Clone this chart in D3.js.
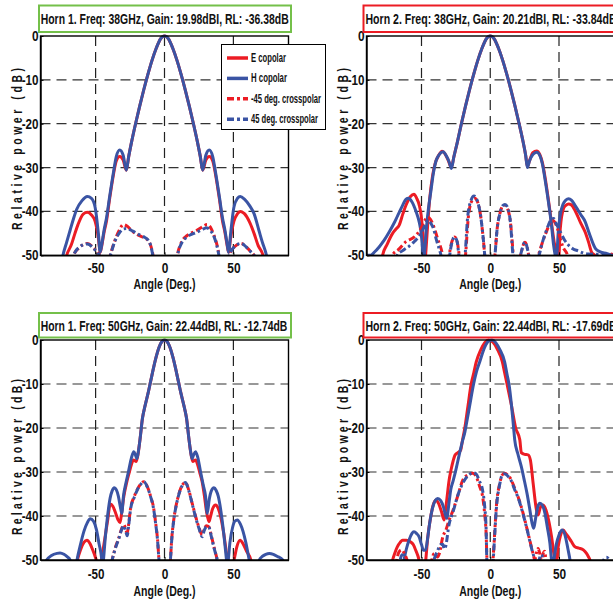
<!DOCTYPE html>
<html><head><meta charset="utf-8">
<script src="https://cdn.jsdelivr.net/npm/d3@7"></script>
<style>html,body{margin:0;padding:0;background:#fff;} svg{display:block;}</style>
</head><body>
<svg id="c" width="613" height="602"></svg>
<script>
// ---------------- DATA ----------------
const xTicks = [-50, 0, 50];
const yTicks = [0, -10, -20, -30, -40, -50];
const gridX = [-50, 0, 50];
const gridY = [-10, -20, -30, -40];
const seriesNames = ["E copolar", "H copolar", "-45 deg. crosspolar", "45 deg. crosspolar"];
const titles = [
  "Horn 1. Freq: 38GHz, Gain: 19.98dBI, RL: -36.38dB",
  "Horn 2. Freq: 38GHz, Gain: 20.21dBI, RL: -33.84dB",
  "Horn 1. Freq: 50GHz, Gain: 22.44dBI, RL: -12.74dB",
  "Horn 2. Freq: 50GHz, Gain: 22.44dBI, RL: -17.69dB"
];
const xLabel = "Angle (Deg.)";
const yLabel = "Relative power (dB)";

// Horn 1, 38 GHz  [angle, dB]
const h1f38_E = [[-90,-60],[-75,-56],[-71,-50],[-67.5,-47.5],[-65,-45],[-62.8,-43],[-59,-40.6],[-56,-40.2],[-53,-40.8],[-50.4,-42.2],[-48,-46],[-46.7,-49.3],[-45.5,-47.8],[-44,-45],[-42,-42],[-40,-37.5],[-37,-31.5],[-35,-28.5],[-32.5,-27.5],[-30,-28.3],[-27.7,-30.6],[-26,-27.5],[-24,-24.3],[-21,-20],[-18,-16],[-15,-12.2],[-12,-8.7],[-9,-5.5],[-6,-2.8],[-3,-0.7],[0,0],[3,-0.7],[6,-2.8],[9,-5.5],[12,-8.7],[15,-12.2],[18,-16],[21,-20],[24,-24.3],[26,-27.5],[27.7,-30.6],[30,-28.3],[32.5,-27.5],[35,-28.5],[37,-31.5],[40,-37.5],[42,-42],[44,-45],[45.5,-47.8],[46.5,-49.3],[48,-46],[50.4,-42.2],[53,-40.5],[55,-40],[58,-40.5],[62,-42.6],[65,-45],[68,-47.8],[71.5,-50],[75,-56],[90,-60]];
const h1f38_H = [[-90,-60],[-77,-56],[-73.7,-50],[-71,-47],[-68.6,-44.4],[-66,-41.6],[-63.7,-39.5],[-60,-37.6],[-56,-36.6],[-53,-37],[-50.4,-39],[-48,-45],[-46.7,-49.3],[-45.5,-47.5],[-44,-44.5],[-42,-41.3],[-40,-37],[-37,-31],[-35,-27.5],[-32.5,-26],[-30,-27.2],[-27.7,-30.6],[-26,-27.5],[-24,-24.3],[-21,-20],[-18,-16],[-15,-12.2],[-12,-8.7],[-9,-5.5],[-6,-2.8],[-3,-0.7],[0,0],[3,-0.7],[6,-2.8],[9,-5.5],[12,-8.7],[15,-12.2],[18,-16],[21,-20],[24,-24.3],[26,-27.5],[27.7,-30.6],[30,-27.2],[32.5,-26],[35,-27.5],[37,-31],[40,-37],[42,-41.3],[44,-44.5],[45.5,-47.5],[46.5,-49.3],[48,-45],[50.4,-39],[53,-37],[55,-36.6],[58,-37.2],[62,-38.8],[65,-40.5],[68.6,-44.4],[71,-47],[74,-50],[77,-56],[90,-60]];
const h1f38_XM = [[-90,-60],[-70,-56],[-66,-50],[-62,-48.3],[-56,-47.3],[-51,-48.5],[-47.3,-50],[-44,-56],[-39.4,-50],[-36,-46.6],[-33,-44.4],[-30,-43],[-27,-43.4],[-23,-44.6],[-19,-45.4],[-15,-46],[-12,-46.6],[-10,-47.8],[-8.3,-50],[-6,-56],[0,-60],[7,-56],[9.3,-50],[11,-48],[13,-46.6],[16,-45.6],[19,-45],[23,-44.4],[27,-43.6],[31,-43],[34,-44],[36,-45.5],[38,-47.5],[39.7,-50],[43,-56],[47,-50],[51,-48],[55.5,-47.3],[60,-48.3],[63,-49.3],[65,-50],[68,-56],[90,-60]];
const h1f38_XP = [[-90,-60],[-70,-56],[-66,-50],[-62,-48.2],[-56,-47.4],[-51,-48.6],[-47.3,-50],[-44,-56],[-39.2,-50],[-36,-46.8],[-33,-45],[-30,-44],[-27.5,-43.9],[-23,-44.5],[-19,-45.2],[-15,-45.8],[-12,-46.5],[-10,-47.8],[-8.5,-50],[-6,-56],[0,-60],[7,-56],[9.5,-50],[11,-48.2],[13,-46.9],[16,-45.9],[19,-45.3],[23,-44.8],[27,-44.2],[30.5,-43.7],[33.5,-44.4],[36,-45.8],[38,-47.8],[39.5,-50],[43,-56],[47,-50],[51,-48],[55.5,-47.3],[60,-48.3],[63,-49.3],[65,-50],[68,-56],[90,-60]];

// Horn 2, 38 GHz
const h2f38_E = [[-90,-60],[-80,-55],[-78.3,-50],[-75,-47.5],[-71,-45],[-68.5,-44],[-66.2,-43.1],[-63.5,-40.5],[-61.3,-38.6],[-58,-36.6],[-55.5,-36.1],[-53.5,-37],[-51.6,-38.6],[-50.2,-41],[-49.1,-44.6],[-47.8,-50],[-47.5,-52],[-47,-50],[-45.5,-43],[-44,-37],[-42,-32],[-40,-29],[-37.5,-27.2],[-35,-26.3],[-33,-26.8],[-30.5,-28.4],[-28.3,-30],[-26.5,-27.6],[-24,-24.3],[-21,-20],[-18,-16],[-15,-12.2],[-12,-8.7],[-9,-5.5],[-6,-2.8],[-3,-0.7],[0,0],[3,-0.7],[6,-2.8],[9,-5.5],[12,-8.7],[15,-12.2],[18,-16],[21,-20],[24,-24.3],[25.8,-27.3],[27,-29.8],[28.5,-28.5],[31,-26.6],[33.8,-26.2],[36,-27],[38,-29],[40,-32.5],[42.3,-37.4],[44.5,-42.5],[46.5,-47],[48.4,-50],[49.3,-51],[50,-50],[50.9,-44],[53.3,-39.3],[55,-38.6],[57,-38.3],[59,-38.5],[62,-40],[66,-42.8],[69,-44.7],[71.5,-47],[73.7,-49.3],[76,-50],[80,-53],[86,-51],[88,-49.7],[90,-50]];
const h2f38_H = [[-90,-50],[-87,-50],[-84,-49.2],[-80.8,-48.1],[-77,-46.5],[-73.5,-44.7],[-70,-42.7],[-67.4,-41],[-64,-38.8],[-61.3,-37.2],[-59.5,-37],[-57,-37.8],[-54,-40],[-51.6,-42.5],[-50.4,-44.6],[-48.8,-50],[-48.5,-51],[-48,-50],[-46.5,-44],[-45,-39.5],[-43,-35],[-41.5,-31.5],[-39.5,-28.5],[-37,-27],[-34.3,-26.4],[-32,-27.3],[-30,-28.6],[-28.2,-30.2],[-26.5,-27.6],[-24,-24.3],[-21,-20],[-18,-16],[-15,-12.2],[-12,-8.7],[-9,-5.5],[-6,-2.8],[-3,-0.7],[0,0],[3,-0.7],[6,-2.8],[9,-5.5],[12,-8.7],[15,-12.2],[18,-16],[21,-20],[24,-24.3],[25.8,-27.3],[27,-30],[28.5,-28.5],[31,-27],[33.8,-26.5],[36,-27.2],[38,-29.3],[40,-33],[42.3,-37.8],[44.5,-43],[46,-47.5],[47.2,-50],[47.8,-51],[48.4,-50],[49.5,-44.5],[50.9,-40.8],[53,-38.3],[55,-37.4],[57,-37.1],[59,-37.4],[62,-38.8],[66,-40.8],[69,-42.3],[72,-45],[76.4,-48.4],[80,-49.2],[85,-49.6],[88,-50],[90,-50.5]];
const h2f38_XM = [[-90,-60],[-73,-55],[-71.2,-50],[-66.4,-48.6],[-61.3,-46.9],[-55.2,-45.8],[-50.4,-43.9],[-47.5,-42],[-45.5,-41.3],[-43.5,-41.8],[-41.9,-42.8],[-38.3,-46.2],[-34.6,-50],[-33,-53],[-30,-50],[-28,-47],[-26,-45.8],[-24,-47],[-22.5,-50],[-20,-54],[-18,-50],[-16,-41.5],[-14,-38],[-11.4,-37],[-9,-38],[-7,-41],[-5,-46.5],[-4,-50],[-1,-56],[2,-53],[3.4,-50],[5,-44],[7,-40.5],[9,-38.8],[10.7,-38.6],[12.5,-39.3],[14.5,-42],[16.8,-50],[18,-54],[20.5,-52],[22,-50],[25.3,-47],[28,-50],[30,-54],[33,-52],[35,-50],[38,-47],[41,-44.5],[44,-42.3],[45.5,-42],[47,-42.5],[49,-44],[50.9,-46.2],[53,-48.2],[56.2,-50],[58,-54],[90,-60]];
const h2f38_XP = [[-90,-60],[-70,-55],[-67.6,-50],[-63,-48.8],[-58.9,-47.9],[-55,-46.8],[-51.6,-45.6],[-48,-43.5],[-45.5,-42],[-43,-42.8],[-41,-44.2],[-39.4,-46.2],[-35.8,-50],[-33,-54],[-30,-51],[-28.5,-48],[-26,-45.8],[-24,-47],[-22.8,-50],[-20,-54],[-18.3,-50],[-16.5,-41.5],[-14,-37.5],[-11.8,-36.5],[-9.5,-37.5],[-7,-41],[-5,-46.5],[-4,-50],[-1,-56],[2,-53],[3.4,-50],[5,-44],[7,-40.5],[9,-38.7],[10.7,-38.4],[12.5,-39],[14.5,-42],[16.5,-50],[18,-54],[20.5,-52],[22,-50],[25.3,-47],[28,-50],[30,-54],[33,-52],[35.5,-50],[38,-47],[41,-44.2],[44,-42],[46,-41.6],[48,-42.8],[50.9,-44.6],[54,-46.5],[57,-47.7],[60,-48.5],[64,-49],[68,-49.5],[71.5,-49.7],[80,-49.8],[88,-50],[90,-50]];

// Horn 1, 50 GHz
const h1f50_E = [[-90,-60],[-65,-53],[-63.2,-50],[-61,-47.7],[-58.5,-46],[-56.3,-45.5],[-54,-46.3],[-52,-47.8],[-49.5,-50],[-47.5,-52],[-45.5,-49.5],[-43.5,-45.5],[-41.5,-41.5],[-39.3,-37.3],[-37.5,-37.8],[-35.5,-39.3],[-33.8,-40.8],[-32.3,-41.5],[-31,-39],[-29.5,-35.5],[-27.4,-32.3],[-25.5,-30],[-24,-28.3],[-22.5,-27.3],[-20.5,-27.6],[-19,-25.5],[-17.7,-22.4],[-16,-17.8],[-14,-14.8],[-12,-12.2],[-10,-9.3],[-8,-6.4],[-6,-3.8],[-4,-1.7],[-2,-0.4],[0,0],[2,-0.4],[4,-1.7],[6,-3.8],[8,-6.4],[10,-9.3],[12,-12.2],[14,-14.8],[16,-17.8],[17.7,-22.4],[19,-25.5],[20.5,-27.6],[22.5,-27.3],[24,-28.3],[25.5,-30],[27.4,-32.3],[29,-35.5],[30.5,-39],[32.3,-41.3],[33.5,-40],[35,-38.3],[37.1,-37.5],[39,-38.3],[41,-40.5],[43,-44],[45.5,-49.6],[47.5,-53],[50.8,-49.5],[52.5,-47],[54.9,-45.5],[57,-46.3],[59.5,-48],[62.7,-50],[64.5,-53],[90,-60]];
const h1f50_H = [[-90,-55],[-87,-52],[-85.5,-50],[-82,-49],[-78,-48.5],[-75.8,-48.4],[-73,-48.7],[-70.5,-49.3],[-68.5,-50],[-67,-53],[-65,-53],[-63.5,-50],[-61,-46.5],[-58.5,-43.5],[-56,-41.5],[-53.9,-40.6],[-51.5,-41.2],[-49.5,-43],[-47.5,-46.3],[-45.5,-50],[-45,-52],[-44.3,-50],[-43,-45],[-41.5,-40.5],[-39.5,-36],[-38,-34.3],[-36.4,-33.6],[-35,-34],[-33.5,-35.5],[-32,-38],[-31,-39.4],[-29.8,-35.5],[-28,-32.5],[-26.2,-30],[-24,-26.8],[-22.3,-25.4],[-21,-26.2],[-20,-27],[-18.8,-25],[-17.7,-22.4],[-16,-17.8],[-14,-14.8],[-12,-12.2],[-10,-9.3],[-8,-6.4],[-6,-3.8],[-4,-1.7],[-2,-0.4],[0,0],[2,-0.4],[4,-1.7],[6,-3.8],[8,-6.4],[10,-9.3],[12,-12.2],[14,-14.8],[16,-17.8],[17.7,-22.4],[18.8,-25],[20,-27],[21,-26.2],[22.5,-25.4],[24,-26.5],[26.2,-30],[28,-32.8],[29.8,-35.5],[31,-39.4],[32.5,-36.2],[34,-34.3],[35.9,-33.6],[37.5,-34.2],[39,-35.5],[41,-39],[43,-44],[44.5,-48.5],[45,-50],[45.6,-52],[46.3,-50],[47.5,-46],[49.5,-42.5],[51,-41.2],[52.9,-40.9],[55,-41.8],[57,-43.5],[59,-46],[61.5,-50],[63.5,-53],[67,-53],[68.8,-50],[71,-49.2],[73.5,-48.7],[76.1,-48.5],[79,-48.7],[82,-49.2],[85.8,-50],[88,-52],[90,-55]];
const h1f50_XM = [[-90,-60],[-42,-56],[-38,-50],[-35.5,-47],[-33.2,-45],[-31,-42.8],[-29.6,-42],[-28.3,-42.8],[-27.1,-43.9],[-26,-41.8],[-24.7,-38.4],[-22,-35.6],[-19.8,-34],[-17,-32.6],[-15,-32.2],[-12.5,-33.3],[-10,-35.6],[-8,-38],[-6.4,-41.6],[-5,-45.5],[-4,-50],[-2,-56],[0,-60],[2,-56],[4.3,-50],[5.3,-45],[6.7,-40.9],[8.5,-37.5],[10,-35.5],[12.5,-33.2],[15.2,-32.4],[17.5,-34],[20,-37],[22.5,-40],[25,-42.6],[27.4,-44.3],[28.8,-43],[30.5,-42.2],[32.3,-42.5],[34,-44.5],[35.9,-47],[38.3,-50],[42,-56],[90,-60]];
const h1f50_XP = [[-90,-60],[-42,-56],[-38,-50],[-35.5,-47.2],[-33.2,-45.2],[-31,-43],[-29.6,-42.2],[-28.3,-43.3],[-27.1,-44.5],[-26,-42.2],[-24.7,-38.6],[-22,-35.8],[-19.8,-34.1],[-17,-32.7],[-15,-32.2],[-12.5,-33.4],[-10,-35.7],[-8,-38.2],[-6.4,-41.8],[-5,-45.7],[-4,-50],[-2,-56],[0,-60],[2,-56],[4.3,-50],[5.3,-45.2],[6.7,-41],[8.5,-37.6],[10,-35.6],[12.5,-33.3],[15.2,-32.4],[17.5,-34.1],[20,-37.1],[22.5,-40.2],[25,-42.8],[27.4,-44.7],[28.8,-43.3],[30.5,-42.4],[32.3,-42.6],[34,-44.7],[35.9,-47.2],[38.3,-50],[42,-56],[90,-60]];

// Horn 2, 50 GHz
const h2f50_E = [[-90,-60],[-74,-55],[-71,-50],[-69.5,-48.5],[-67.6,-47],[-65.5,-46],[-63.8,-45.5],[-61,-45.5],[-57.9,-45.9],[-56,-46.5],[-54.2,-47.8],[-51.8,-50],[-49.5,-55],[-46.9,-50],[-45.5,-45],[-43.3,-40.2],[-41.5,-37.5],[-39.6,-36.4],[-37.5,-37.2],[-35.5,-39],[-33.5,-40.9],[-32.8,-39.4],[-31.5,-36],[-29.9,-31.8],[-28.5,-29.5],[-27,-27.5],[-25.5,-26.1],[-23,-25.5],[-21.5,-25],[-20.3,-23],[-18.5,-20],[-16.2,-15],[-13.9,-10],[-12,-7.5],[-10.2,-5],[-7,-2.3],[-4,-0.6],[-1.2,0],[2,-0.5],[5,-2],[8.8,-5],[10.5,-7.5],[12.2,-10],[15.5,-15],[18.5,-20],[21.5,-22.7],[22.6,-25.6],[25,-26],[27.5,-26.1],[29.2,-27.3],[31.2,-32.6],[33.6,-38.6],[34.8,-39.8],[36.5,-38],[38.5,-37.5],[40.9,-39],[42.8,-41.5],[44.6,-44.7],[47,-50],[48,-51],[49.4,-47],[51,-44.5],[53.1,-43.2],[55,-44],[56.7,-44.7],[59,-45.8],[61.6,-47],[64.5,-47.3],[67.7,-47.7],[70,-48.5],[71.3,-49.2],[72.5,-50],[75,-55],[90,-60]];
const h2f50_H = [[-90,-60],[-65,-55],[-62.7,-50],[-61,-47.5],[-59.1,-45.5],[-57,-44],[-55.5,-43.6],[-53.5,-44],[-51.8,-44.7],[-50,-46.5],[-48.5,-47.8],[-47,-47.7],[-45.5,-45],[-44,-41.5],[-42,-38.2],[-40,-36.5],[-38.2,-36],[-36,-36.5],[-34,-38],[-32.8,-39.5],[-31.6,-40.5],[-30,-37],[-28.7,-34],[-27,-32],[-25,-29.5],[-22.5,-26],[-20.2,-23],[-18.5,-21],[-17.3,-19],[-15,-15],[-12.1,-10],[-10,-7.2],[-7.7,-5],[-4,-1.6],[-1,-0.2],[1.3,0],[4,-0.6],[7,-2.2],[10.5,-5],[12.2,-7.8],[13.6,-10],[15.5,-15],[17,-20],[17.8,-22.7],[20,-25.8],[22.6,-28.8],[24.5,-31.5],[26.7,-34.8],[28.5,-38],[30.4,-41.6],[31.6,-42.8],[33,-40.5],[34.5,-38],[36.1,-37.1],[38,-37.6],[39.8,-39.4],[41.5,-42.5],[43.4,-46.2],[44.6,-50],[45.3,-51],[46.2,-50],[48,-46.5],[50,-44.3],[52.4,-43.2],[54.5,-44.5],[56.5,-47.5],[58,-50],[60,-55],[90,-60]];
const h2f50_XM = [[-90,-60],[-70,-55],[-68,-50],[-66.4,-48.2],[-64.5,-47.7],[-62.5,-48.5],[-60.5,-50],[-55,-56],[-44,-54],[-42.5,-50],[-40.6,-48.5],[-38.5,-49.3],[-37,-48.5],[-34.5,-44.7],[-32.3,-43.2],[-30,-41],[-27.2,-38.8],[-23.5,-35.3],[-19.9,-31.8],[-16,-30.6],[-12.6,-30.3],[-10,-31.2],[-7.7,-33.3],[-5.6,-35.5],[-4.1,-39.4],[-3,-44],[-2.4,-50],[-1,-56],[0.5,-56],[2,-50],[3.2,-44],[4.4,-38],[6.9,-32.6],[8.5,-30.8],[10.5,-30.3],[13,-30.8],[15.3,-31.8],[17.5,-33.5],[20.2,-35.6],[23.9,-39.4],[27.5,-43.9],[29.9,-47],[31.5,-49],[32.4,-50],[33.5,-48.5],[34.8,-47.4],[36,-48.5],[37.2,-50],[38.5,-48.5],[39.5,-48],[40.5,-50],[42,-55],[90,-60]];
const h2f50_XP = [[-90,-60],[-67,-55],[-65.5,-50],[-64,-48.8],[-62.5,-50],[-60,-55],[-45,-55],[-41,-50],[-38.5,-48],[-36,-46.5],[-34.5,-46.4],[-33.5,-47.5],[-32.5,-47],[-30,-42],[-27,-39],[-23.5,-35.2],[-20.2,-32.7],[-16,-30.8],[-12.5,-30.2],[-10.4,-30.4],[-8,-32],[-5.6,-34.1],[-4,-38],[-3,-43],[-2.5,-50],[-1,-56],[1,-56],[2.2,-50],[3.3,-44],[4.4,-38.5],[6.9,-32.8],[8.5,-30.8],[10.5,-30.4],[13,-31],[15.3,-32],[17.5,-33.8],[20.2,-35.8],[23.9,-39.6],[27.5,-44],[29.9,-47.2],[32.4,-50],[34,-52],[35.5,-50],[37,-48.8],[38.5,-50],[40,-55],[80,-55],[82.5,-50],[84.5,-49.4],[86.5,-50],[88,-55],[90,-60]];

// ---------------- LAYOUT ----------------
const FONT = "'Liberation Sans','Arial','Helvetica',sans-serif";
const RED = "#ec1c24", BLUE = "#3a54a4", GREEN = "#74c04a";
const styles = [
  {color: RED, dash: null},
  {color: BLUE, dash: null},
  {color: RED, dash: "7,3,2.5,3"},
  {color: BLUE, dash: "7,3,2.5,3"}
];
const panels = [
  {series: [h1f38_E, h1f38_H, h1f38_XM, h1f38_XP], title: titles[0], border: GREEN,
   x0: 40.5, x1: 288.5, y0: 36, y1: 255.3, box: [39, 5.5, 252, 26.5], tx: 40.7, tb: 24, tl: 248,
   ylx: 22, yly: 149, yll: 162, xlb: 289, xpad: 8},
  {series: [h2f38_E, h2f38_H, h2f38_XM, h2f38_XP], title: titles[1], border: RED,
   x0: 366.5, x1: 614, y0: 36, y1: 255.3, box: [363.5, 5.5, 260, 26.5], tx: 365.5, tb: 24, tl: 251,
   ylx: 348, yly: 149, yll: 162, xlb: 289, xpad: 8},
  {series: [h1f50_E, h1f50_H, h1f50_XM, h1f50_XP], title: titles[2], border: GREEN,
   x0: 40.5, x1: 288.5, y0: 340, y1: 560, box: [39, 313, 252, 24.5], tx: 40.7, tb: 330.5, tl: 246.6,
   ylx: 22, yly: 457, yll: 156, xlb: 595.5, xpad: 9.5},
  {series: [h2f50_E, h2f50_H, h2f50_XM, h2f50_XP], title: titles[3], border: RED,
   x0: 366.5, x1: 614, y0: 340, y1: 560, box: [363.5, 313, 260, 24.5], tx: 365.5, tb: 330.5, tl: 251,
   ylx: 348, yly: 457, yll: 156, xlb: 595.5, xpad: 9.5}
];
const tickLen = s => 6.6 * s.replace("-", "").length + (s.startsWith("-") ? 3.6 : 0);

// ---------------- DRAW ----------------
const svg = d3.select("#c");
const defs = svg.append("defs");

panels.forEach((p, i) => {
  const x = d3.scaleLinear().domain([-90, 90]).range([p.x0, p.x1]);
  const y = d3.scaleLinear().domain([-50, 0]).range([p.y1, p.y0]);
  const g = svg.append("g");

  // grid
  gridX.forEach(v => g.append("line")
    .attr("x1", x(v)).attr("x2", x(v)).attr("y1", p.y0).attr("y2", p.y1)
    .attr("stroke", "#222").attr("stroke-width", 1.2).attr("stroke-dasharray", "10,6"));
  gridY.forEach(v => g.append("line")
    .attr("x1", p.x0).attr("x2", p.x1).attr("y1", y(v)).attr("y2", y(v))
    .attr("stroke", "#333").attr("stroke-width", 1.2).attr("stroke-dasharray", "10,6"));

  // clip
  defs.append("clipPath").attr("id", "clip" + i).append("rect")
    .attr("x", p.x0).attr("y", p.y0 - 3).attr("width", p.x1 - p.x0).attr("height", p.y1 - p.y0 + 3);

  const line = d3.line().x(d => x(d[0])).y(d => y(d[1])).curve(d3.curveMonotoneX);
  p.series.forEach((s, k) => {
    g.append("path").attr("d", line(s))
      .attr("clip-path", `url(#clip${i})`)
      .attr("fill", "none")
      .attr("stroke", styles[k].color)
      .attr("stroke-width", 3)
      .attr("stroke-linejoin", "round")
      .attr("stroke-dasharray", styles[k].dash);
  });

  // box
  g.append("rect").attr("x", p.x0).attr("y", p.y0).attr("width", p.x1 - p.x0).attr("height", p.y1 - p.y0)
    .attr("fill", "none").attr("stroke", "#000").attr("stroke-width", 1.4);

  // axes
  const ax = g.append("g").attr("transform", `translate(0,${p.y1})`)
    .call(d3.axisBottom(x).tickValues(xTicks).tickSize(-3).tickSizeOuter(0).tickPadding(p.xpad).tickFormat(d => String(d)));
  const ay = g.append("g").attr("transform", `translate(${p.x0},0)`)
    .call(d3.axisLeft(y).tickValues(yTicks).tickSize(-3).tickSizeOuter(0).tickPadding(2).tickFormat(d => String(d)));
  [ax, ay].forEach(a => {
    a.select(".domain").attr("stroke", "#000").attr("stroke-width", 1.4);
    a.selectAll(".tick line").attr("stroke", "#000");
    a.selectAll("text").attr("font-family", FONT).attr("font-size", 14).attr("font-weight", "bold").attr("fill", "#111")
      .attr("textLength", function() { return tickLen(this.textContent); })
      .attr("lengthAdjust", "spacingAndGlyphs");
  });

  // title box
  g.append("rect").attr("x", p.box[0]).attr("y", p.box[1]).attr("width", p.box[2]).attr("height", p.box[3])
    .attr("fill", "#fff").attr("stroke", p.border).attr("stroke-width", 2);
  g.append("text").attr("x", p.tx).attr("y", p.tb).text(p.title)
    .attr("font-family", FONT).attr("font-size", 15).attr("font-weight", "bold").attr("fill", "#111")
    .attr("textLength", p.tl).attr("lengthAdjust", "spacingAndGlyphs");

  // axis labels
  g.append("text").attr("x", (p.x0 + p.x1) / 2).attr("y", p.xlb).attr("text-anchor", "middle").text(xLabel)
    .attr("font-family", FONT).attr("font-size", 14).attr("font-weight", "bold").attr("fill", "#111")
    .attr("textLength", 62).attr("lengthAdjust", "spacingAndGlyphs");
  const sx = 0.72;
  g.append("text").attr("transform", `translate(${p.ylx},${p.yly}) rotate(-90) scale(${sx},1)`)
    .attr("x", -p.yll / sx / 2).attr("y", 0).text(yLabel)
    .attr("font-family", FONT).attr("font-size", 14.5).attr("font-weight", "bold").attr("fill", "#111")
    .attr("textLength", p.yll / sx).attr("lengthAdjust", "spacing");
});

// legend (inside first panel, drawn on top)
const lg = svg.append("g");
lg.append("rect").attr("x", 221.5).attr("y", 44.5).attr("width", 104).attr("height", 85)
  .attr("fill", "#fff").attr("stroke", "#000").attr("stroke-width", 1);
const legendLens = [35, 36, 70, 67];
seriesNames.forEach((n, k) => {
  const yy = 58 + k * 20.4;
  lg.append("line").attr("x1", 227).attr("x2", 248).attr("y1", yy).attr("y2", yy)
    .attr("stroke", styles[k].color).attr("stroke-width", 3.5)
    .attr("stroke-dasharray", styles[k].dash ? "7,3,3,3" : null);
  lg.append("text").attr("x", 251).attr("y", yy + 4).text(n)
    .attr("font-family", FONT).attr("font-size", 12).attr("font-weight", "bold").attr("fill", "#111")
    .attr("textLength", legendLens[k]).attr("lengthAdjust", "spacingAndGlyphs");
});
</script>
</body></html>
